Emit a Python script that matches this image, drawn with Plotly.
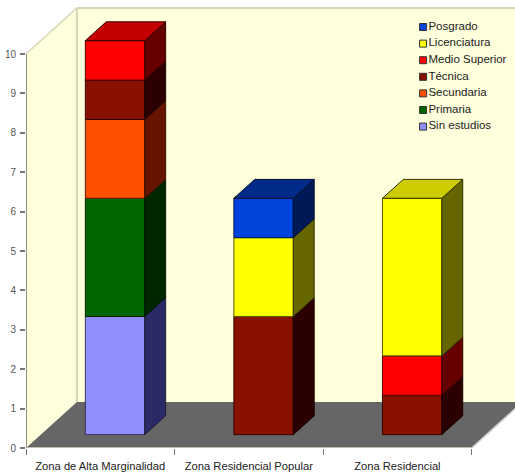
import plotly.graph_objects as go

# Zones and schooling levels, stacked bottom to top
zones = ["Zona de Alta Marginalidad", "Zona Residencial Popular", "Zona Residencial"]
sin_estudios = [3, 0, 0]
primaria = [3, 0, 0]
secundaria = [2, 0, 0]
tecnica = [1, 3, 1]
medio_superior = [1, 0, 1]
licenciatura = [0, 2, 4]
posgrado = [0, 1, 0]
y_ticks = list(range(11))

# name, values, front colour, side colour, lid colour
levels = [
    ("Sin estudios", sin_estudios, (143, 143, 255), (42, 42, 102), (112, 112, 200)),
    ("Primaria", primaria, (0, 102, 0), (0, 38, 0), (0, 80, 0)),
    ("Secundaria", secundaria, (255, 80, 0), (102, 20, 0), (200, 60, 0)),
    ("Técnica", tecnica, (136, 17, 0), (44, 0, 0), (106, 12, 0)),
    ("Medio Superior", medio_superior, (255, 0, 0), (102, 0, 0), (196, 0, 0)),
    ("Licenciatura", licenciatura, (255, 255, 0), (102, 102, 0), (204, 204, 0)),
    ("Posgrado", posgrado, (0, 68, 221), (0, 26, 88), (0, 43, 136)),
]

# Plot-area scale in pixels per axis unit
PX_X = 148.7
PX_Y = 39.4
WIDTH, HEIGHT = 515, 475
LEFT, BOTTOM = 25.5, 27

# Oblique projection: a full step into the scene moves this far on each axis
DEPTH_X = 51 / PX_X
DEPTH_Y = 46 / PX_Y
BAR_NEAR = 0.29
BAR_DEEP = 0.41
BAR_WIDTH = 0.40


def project(x, y, depth):
    return x + depth * DEPTH_X, y + depth * DEPTH_Y


def rgb(c, k=1.0):
    return "rgb({},{},{})".format(*(round(v * k) for v in c))


def poly_path(points):
    return "M" + "L".join(f"{x},{y}" for x, y in points) + "Z"


X0, X1 = -0.5, 2.5
Y_TOP = 10
WALL = "#FFFFDC"
EDGE = "#D6D6B4"
FLOOR = "#666666"

fig = go.Figure()

shapes = []
wall_left = [project(X0, 0, 0), project(X0, Y_TOP, 0), project(X0, Y_TOP, 1), project(X0, 0, 1)]
wall_back = [project(X0, 0, 1), project(X0, Y_TOP, 1), project(X1, Y_TOP, 1), project(X1, 0, 1)]
floor = [project(X0, 0, 0), project(X1, 0, 0), project(X1, 0, 1), project(X0, 0, 1)]
for pts, fill in [(wall_left, WALL), (wall_back, WALL), (floor, FLOOR)]:
    shapes.append(dict(type="path", path=poly_path(pts), fillcolor=fill,
                       line=dict(width=0), layer="below", xref="x", yref="y"))

# Wall edges and the two axis lines
edges = [
    (project(X0, Y_TOP, 0), project(X0, Y_TOP, 1), EDGE, 1.5),
    (project(X0, Y_TOP, 1), project(X1, Y_TOP, 1), EDGE, 2),
    (project(X0, 0, 1), project(X0, Y_TOP, 1), EDGE, 2),
    (project(X1, 0, 0), project(X1, 0, 1), "#CFCFCF", 1.5),
    (project(X0, 0, 0), project(X1, 0, 0), "#BDBDB0", 2),
    (project(X0, 0, 0), project(X0, Y_TOP, 0), "#8E8E7C", 2),
]
for a, b, color, w in edges:
    shapes.append(dict(type="line", x0=a[0], y0=a[1], x1=b[0], y1=b[1],
                       line=dict(color=color, width=w), layer="below", xref="x", yref="y"))

# Front faces of the stacks
lift = BAR_NEAR * DEPTH_Y
shift = BAR_NEAR * DEPTH_X
totals = [0] * len(zones)
segments = []
for name, values, color, side, lid in levels:
    xs, ys, bases = [], [], []
    for i, v in enumerate(values):
        if v > 0:
            xs.append(i + shift)
            ys.append(v)
            bases.append(totals[i] + lift)
            segments.append((i, totals[i], totals[i] + v, color, side, lid))
            totals[i] += v
    fig.add_trace(go.Bar(
        x=xs, y=ys, base=bases, width=BAR_WIDTH, name=name, showlegend=False,
        marker=dict(color=rgb(color), line=dict(color=rgb(color, 0.35), width=1)),
        hovertemplate=name + ": %{y}<extra></extra>",
    ))


def face(points, fill, outline):
    xs = [p[0] for p in points] + [points[0][0]]
    ys = [p[1] for p in points] + [points[0][1]]
    fig.add_trace(go.Scatter(
        x=xs, y=ys, mode="lines", fill="toself", fillcolor=rgb(fill),
        line=dict(color=rgb(outline, 0.2), width=1), hoverinfo="skip", showlegend=False,
    ))


# Right-hand sides of every segment, and a lid on each finished stack
for i, low, high, color, side, lid in segments:
    right = i + shift + BAR_WIDTH / 2
    left = i + shift - BAR_WIDTH / 2
    bottom = low + lift
    top = high + lift
    dx, dy = BAR_DEEP * DEPTH_X, BAR_DEEP * DEPTH_Y
    face([(right, bottom), (right, top), (right + dx, top + dy), (right + dx, bottom + dy)], side, color)
    if high == totals[i]:
        face([(left, top), (right, top), (right + dx, top + dy), (left + dx, top + dy)], lid, color)

# Colour key in the upper right corner of the back wall
key_x = X0 + (423 - LEFT) / PX_X
key_top = (HEIGHT - BOTTOM - 27) / PX_Y
key_step = 16.6 / PX_Y
key_levels = list(reversed(levels))
fig.add_trace(go.Scatter(
    x=[key_x] * len(key_levels),
    y=[key_top - n * key_step for n in range(len(key_levels))],
    mode="markers+text",
    text=[lv[0] for lv in key_levels],
    textposition="middle right",
    textfont=dict(family="Liberation Sans, Arial, sans-serif", size=11.5, color="#222222"),
    marker=dict(symbol="square", size=7, color=[rgb(lv[2]) for lv in key_levels],
                line=dict(color="#333333", width=1)),
    hoverinfo="skip", showlegend=False, cliponaxis=False,
))

fig.update_layout(
    width=WIDTH, height=HEIGHT, autosize=False,
    margin=dict(l=LEFT, r=0, t=0, b=BOTTOM, pad=0),
    paper_bgcolor="white", plot_bgcolor="white",
    barmode="overlay", showlegend=False, shapes=shapes,
    font=dict(family="Liberation Sans, Arial, sans-serif"),
    xaxis=dict(
        range=[X0, X0 + (WIDTH - LEFT) / PX_X],
        tickmode="array", tickvals=[0, 1, 2], ticktext=zones, ticks="",
        tickfont=dict(size=11.2, color="#222222"), ticklabelstandoff=10,
        showgrid=False, zeroline=False, showline=False,
        minor=dict(tickmode="array", tickvals=[-0.5, 0.5, 1.5, 2.5], ticks="outside",
                   ticklen=6, tickcolor="#777777", tickwidth=1, showgrid=False),
    ),
    yaxis=dict(
        range=[0, (HEIGHT - BOTTOM) / PX_Y],
        tickmode="array", tickvals=y_ticks, ticks="outside", ticklen=5,
        tickcolor="#777777", tickwidth=1.5, ticklabelstandoff=2,
        tickfont=dict(size=10, color="#555555"),
        showgrid=False, zeroline=False, showline=False,
    ),
)

fig.write_html("out.html")
